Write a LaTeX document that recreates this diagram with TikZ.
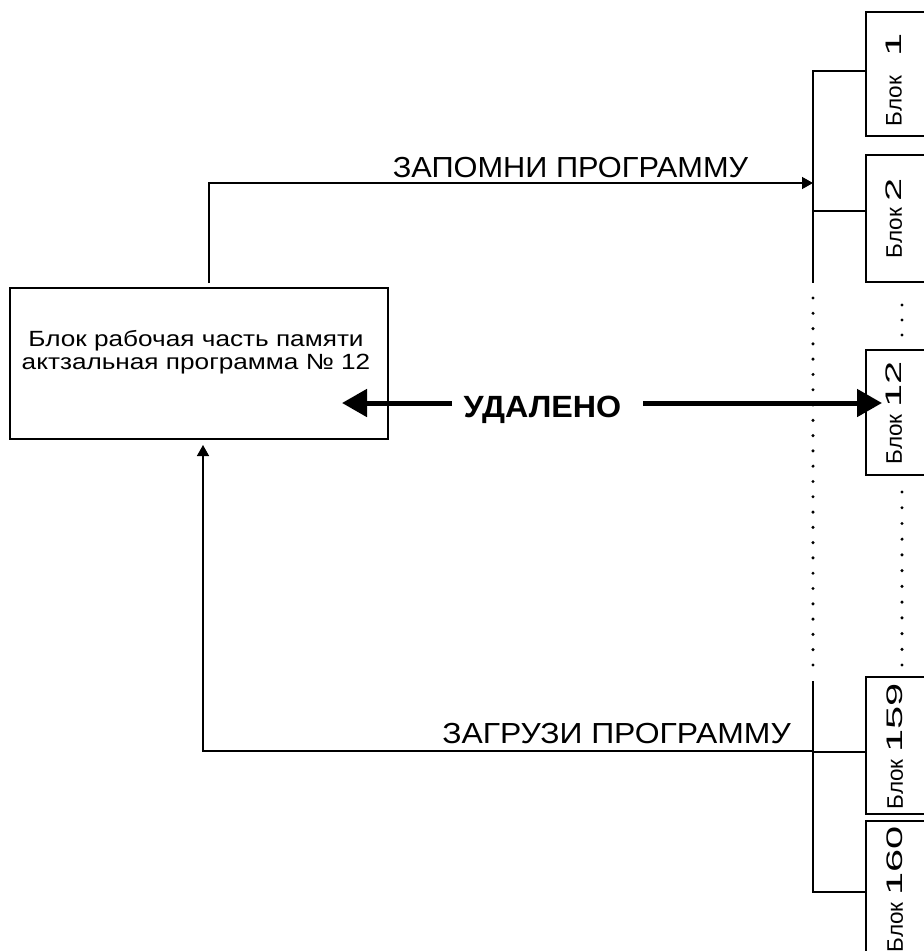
\documentclass[tikz,border=0pt]{standalone}
\usepackage{fontspec}
\setmainfont{Liberation Sans}
\newfontfamily\memfont[FakeStretch=1.19]{Liberation Sans}
\newfontfamily\zapfont[FakeStretch=1.06]{Liberation Sans}
\newfontfamily\zagfont[FakeStretch=1.10]{Liberation Sans}
\newfontfamily\delfont[FakeStretch=1.05]{Liberation Sans}
\newfontfamily\digfont[FakeStretch=1.85]{Liberation Sans}
\usetikzlibrary{arrows.meta}
\tikzset{
  thin line/.style={line width=1.4pt},
  blockbox/.style={draw, thin line, rectangle, minimum width=78pt, inner sep=0pt},
  blocklabel/.style={rotate=90, font=\fontsize{22.5}{22.5}\selectfont, inner sep=0pt},
  sigarrow/.style={thin line, -{Triangle[length=11pt,width=12pt]}},
  bigarrow/.style={line width=5pt, -{Triangle[length=25pt,width=27pt]}},
  dotline/.style={line width=3.4pt, line cap=round},
  biglabel/.style={anchor=base, inner sep=0pt},
}
\begin{document}
\begin{tikzpicture}[x=1pt,y=-1pt]
\useasboundingbox (0,0) rectangle (924,951);
\clip (0,0) rectangle (924,951);
% main memory box
\node[draw, thin line, minimum width=378pt, minimum height=151pt, inner sep=0pt] (mem) at (199,363.5) {};
\node[align=center, font=\memfont\fontsize{22}{23}\selectfont, inner sep=0pt] (memtext) at (196,352.5)
  {Блок рабочая часть памяти\\актзальная программа № 12};
% blocks
\node[blockbox, minimum height=124pt] (b1) at (905,74) {};
\node[blockbox, minimum height=127pt] (b2) at (905,218.5) {};
\node[blockbox, minimum height=125pt] (b12) at (905,412.5) {};
\node[blockbox, minimum height=137pt] (b159) at (905,745.5) {};
\node[blockbox, minimum height=137pt] (b160) at (905,889.5) {};
\node[blocklabel] (l1) at (894,80) {Блок\hspace{13pt} {\digfont 1}};
\node[blocklabel] (l2) at (894,218.5) {Блок {\digfont 2}};
\node[blocklabel] (l12) at (894,413) {Блок {\digfont 12}};
\node[blocklabel] (l159) at (895,746.5) {Блок {\digfont 159}};
\node[blocklabel] (l160) at (895,889.5) {Блок {\digfont 160}};
% bus coordinates
\coordinate (bustop) at (813,71);
\coordinate (busmid) at (813,283);
\coordinate (busbot1) at (813,681);
\coordinate (busbot2) at (813,892);
\coordinate (zapin) at (813,183);
\coordinate (zagout) at (813,751);
\coordinate (zapstart) at (209,283);
\coordinate (zagend) at (203,445);
% top bus
\draw[thin line] (b1.west |- bustop) -- (bustop) -- (busmid);
\draw[thin line] (b2.west |- 0,211) -- (813,211);
% bottom bus
\draw[thin line] (busbot1) -- (busbot2) -- (b160.west |- busbot2);
\draw[thin line] (813,752) -- (b159.west |- 0,752);
% dotted parts
\draw[dotline, dash pattern=on 0pt off 15.29pt] (813,298) -- (813,665.1);
\draw[dotline, dash pattern=on 0pt off 15pt] (902,305) -- (902,335.1);
\draw[dotline, dash pattern=on 0pt off 15.73pt] (902,492) -- (902,665.1);
% store program
\draw[sigarrow] (zapstart) -- (209,183) -- (zapin);
\node[biglabel, font=\zapfont\fontsize{29}{29}\selectfont] (zaptext) at (570.5,177) {ЗАПОМНИ ПРОГРАММУ};
% load program
\draw[sigarrow] (zagout) -- (203,751) -- (zagend);
\node[biglabel, font=\zagfont\fontsize{29}{29}\selectfont] (zagtext) at (616.5,743) {ЗАГРУЗИ ПРОГРАММУ};
% deleted
\node[biglabel, font=\delfont\bfseries\fontsize{30.7}{30.7}\selectfont] (del) at (542.5,417) {УДАЛЕНО};
\draw[bigarrow] (452,403) -- (342,403);
\draw[bigarrow] (643,403) -- (882,403);
\end{tikzpicture}
\end{document}
